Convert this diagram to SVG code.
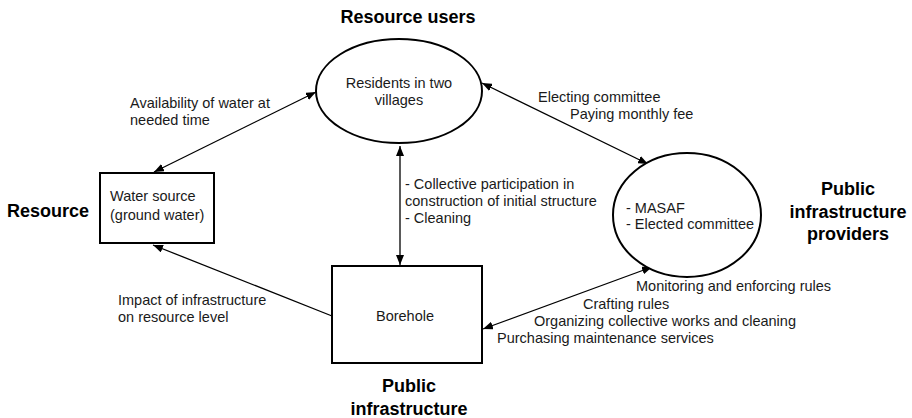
<svg xmlns="http://www.w3.org/2000/svg" width="912" height="418" viewBox="0 0 912 418">
<defs>
<marker id="ah" viewBox="0 0 10 8" refX="10" refY="4" markerWidth="10" markerHeight="8" markerUnits="userSpaceOnUse" orient="auto-start-reverse">
<path d="M0,0 L10,4 L0,8 z" fill="#000"/>
</marker>
<style>
.t{font-family:"Liberation Sans",Arial,sans-serif;font-size:14.5px;fill:#1a1a1a}
.b{font-family:"Liberation Sans",Arial,sans-serif;font-size:18px;font-weight:bold;fill:#000}
.n{fill:#fff;stroke:#000;stroke-width:2}
.c{stroke:#000;stroke-width:1.3;fill:none}
</style>
</defs>
<rect width="912" height="418" fill="#fff"/>
<g id="connectors">
<line class="c" x1="154" y1="172" x2="316" y2="92" marker-start="url(#ah)" marker-end="url(#ah)"/>
<line class="c" x1="400" y1="146" x2="400" y2="265" marker-start="url(#ah)" marker-end="url(#ah)"/>
<line class="c" x1="482" y1="83" x2="648" y2="164" marker-start="url(#ah)" marker-end="url(#ah)"/>
<line class="c" x1="332" y1="316" x2="153" y2="245" marker-end="url(#ah)"/>
<line class="c" x1="483" y1="329" x2="652" y2="267" marker-start="url(#ah)" marker-end="url(#ah)"/>
</g>
<g id="residents">
<ellipse class="n" cx="399" cy="91" rx="83" ry="52"/>
<text class="t" x="399" y="88" text-anchor="middle">Residents in two</text>
<text class="t" x="399" y="105" text-anchor="middle">villages</text>
</g>
<g id="water">
<rect class="n" x="100" y="173" width="114" height="70"/>
<text class="t" x="110" y="201">Water source</text>
<text class="t" x="110" y="220">(ground water)</text>
</g>
<g id="borehole">
<rect class="n" x="332" y="266" width="150" height="97"/>
<text class="t" x="405" y="321" text-anchor="middle">Borehole</text>
</g>
<g id="masaf">
<ellipse class="n" cx="687" cy="215" rx="74" ry="62"/>
<text class="t" x="626" y="213">- MASAF</text>
<text class="t" x="626" y="229">- Elected committee</text>
</g>
<g id="labels">
<text class="b" x="408" y="23" text-anchor="middle">Resource users</text>
<text class="b" x="7" y="217">Resource</text>
<text class="b" x="848" y="195" text-anchor="middle">Public</text>
<text class="b" x="848" y="218" text-anchor="middle">infrastructure</text>
<text class="b" x="848" y="240" text-anchor="middle">providers</text>
<text class="b" x="409" y="392" text-anchor="middle">Public</text>
<text class="b" x="409" y="415" text-anchor="middle">infrastructure</text>
<text class="t" x="130" y="108">Availability of water at</text>
<text class="t" x="130" y="125">needed time</text>
<text class="t" x="538" y="102">Electing committee</text>
<text class="t" x="570" y="119">Paying monthly fee</text>
<text class="t" x="405" y="189">- Collective participation in</text>
<text class="t" x="405" y="206">construction of initial structure</text>
<text class="t" x="405" y="223">- Cleaning</text>
<text class="t" x="118" y="305">Impact of infrastructure</text>
<text class="t" x="118" y="322">on resource level</text>
<text class="t" x="636" y="291">Monitoring and enforcing rules</text>
<text class="t" x="583" y="309">Crafting rules</text>
<text class="t" x="534" y="326">Organizing collective works and cleaning</text>
<text class="t" x="497" y="343">Purchasing maintenance services</text>
</g>
</svg>
